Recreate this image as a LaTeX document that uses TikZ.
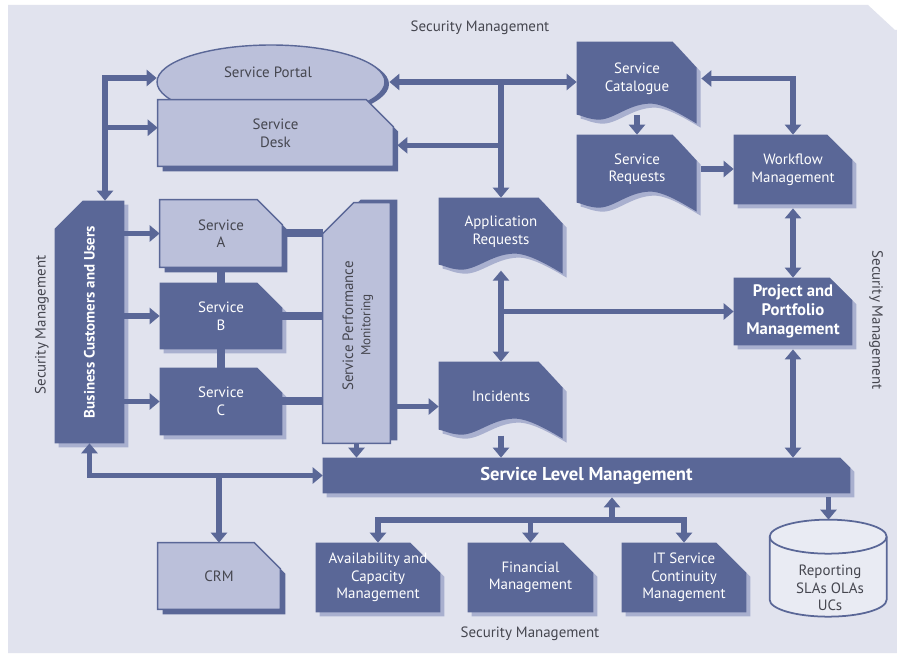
\documentclass[tikz,border=0pt]{standalone}
\usepackage{fontspec}
\setmainfont{PT Sans}
\usetikzlibrary{shapes.geometric,positioning,calc,arrows.meta}

\definecolor{panelgray}{HTML}{E1E3EE}
\definecolor{itilblue}{HTML}{5A6797}
\definecolor{itillight}{HTML}{BBC0DA}
\definecolor{itilshade}{HTML}{A9B0CF}
\definecolor{itiltext}{HTML}{45464F}
\definecolor{itildisk}{HTML}{E9EBF3}

\pgfdeclarelayer{panel}
\pgfdeclarelayer{docs}
\pgfsetlayers{panel,docs,main}

\tikzset{
  box/.style={rectangle, inner sep=0pt, align=center, font=\fontsize{8.5}{10}\selectfont},
  darkbox/.style={box, text=white},
  lightbox/.style={box, text=itiltext},
  darkfill/.style={fill=itilblue},
  darkshade/.style={fill=itilshade, transform canvas={shift={(2.3pt,-2.3pt)}}},
  lightfill/.style={fill=itillight, draw=itilblue, line width=0.8pt},
  lightshade/.style={fill=itilblue, transform canvas={shift={(2.8pt,-2.8pt)}}},
  conn/.style={draw=itilblue, line width=0.11cm},
  tie/.style={draw=itilblue, line width=0.16cm},
  secnote/.style={text=itiltext, font=\fontsize{8.5}{10}\selectfont},
}

% boxes with one corner cut off, drawn round a node
\newcommand{\nepath}[2]{(#1.north west) -- ([xshift=-#2]#1.north east)
  -- ([yshift=-#2]#1.north east) -- (#1.south east) -- (#1.south west) -- cycle}
\newcommand{\nwpath}[2]{([yshift=-#2]#1.north west) -- ([xshift=#2]#1.north west)
  -- (#1.north east) -- (#1.south east) -- (#1.south west) -- cycle}
\newcommand{\shapebox}[5]{%
  \begin{pgfonlayer}{docs}
    \path[#5] #2{#1}{#3};
    \path[#4] #2{#1}{#3};
  \end{pgfonlayer}}

% wavy document outline, w and h in px, drawn from the node's north west corner
\newcommand{\docpath}[2]{(0,0) -- ({#1-24},0) -- (#1,26) -- (#1,{#2+9})
  .. controls ({#1-12},{#2+2}) and ({0.72*#1},{#2-12}) .. ({0.6*#1},{#2-11})
  .. controls ({0.42*#1},{#2-10}) and ({0.3*#1},{#2+6}) .. ({0.17*#1},{#2+5})
  .. controls ({0.08*#1},{#2+4}) and (6,{#2+1}) .. (0,#2) -- cycle}
\newcommand{\docshape}[3]{%
  \begin{pgfonlayer}{docs}
    \begin{scope}[shift={(#1.north west)}]
      \fill[itilshade,shift={(4,4)}] \docpath{#2}{#3};
      \fill[itilblue] \docpath{#2}{#3};
    \end{scope}
  \end{pgfonlayer}}

\begin{document}
\begin{tikzpicture}[x=0.02cm,y=-0.02cm,>={Triangle[width=0.32cm,length=0.2cm]}]
\useasboundingbox (0,0) rectangle (897,655);
\begin{pgfonlayer}{panel}
  \fill[white] (0,0) rectangle (897,655);
  \fill[panelgray] (8,5) -- (868,5) -- (895,30) -- (897,30) -- (897,653) -- (8,653) -- cycle;
\end{pgfonlayer}

% security around everything
\node[secnote] (sectop) at (480,28) {Security Management};
\node[secnote,rotate=90] (secleft) at (42,325) {Security Management};
\node[secnote,rotate=-90] (secright) at (876,320) {Security Management};
\node[secnote] (secbot) at (530,634) {Security Management};

% portal and desk
\node[ellipse, minimum width=4.56cm, minimum height=1.48cm] (portal) at (271,82) {};
\begin{pgfonlayer}{docs}
  \fill[itilblue] ([xshift=2.3pt,yshift=-1.2pt]portal.center) ellipse [x radius=2.28cm, y radius=0.74cm];
  \filldraw[lightfill] (portal.center) ellipse [x radius=2.28cm, y radius=0.74cm];
\end{pgfonlayer}
\node[lightbox] (portaltext) at (268,72) {Service Portal};
\node[lightbox, minimum width=4.7cm, minimum height=1.32cm] (desk) at (275.5,133) {Service\\Desk};
\shapebox{desk}{\nepath}{0.54cm}{lightfill}{lightshade}

% customers, services and monitoring
\node[darkbox, minimum width=1.38cm, minimum height=4.84cm] (bcu) at (89.5,322) {};
\shapebox{bcu}{\nwpath}{0.56cm}{darkfill}{darkshade}
\node[rotate=90, text=white, font=\bfseries\fontsize{8.5}{10}\selectfont] (bcutext) at (bcu) {Business Customers and Users};
\node[lightbox, minimum width=2.44cm, minimum height=1.34cm] (sa) at (221,233.5) {Service\\A};
\shapebox{sa}{\nepath}{0.5cm}{lightfill}{lightshade}
\node[darkbox, minimum width=2.44cm, minimum height=1.32cm] (sb) at (221,316) {Service\\B};
\shapebox{sb}{\nepath}{0.5cm}{darkfill}{darkshade}
\node[darkbox, minimum width=2.44cm, minimum height=1.34cm] (sc) at (221,401.5) {Service\\C};
\shapebox{sc}{\nepath}{0.5cm}{darkfill}{darkshade}
\node[lightbox, minimum width=1.34cm, minimum height=4.8cm] (spm) at (356.5,323) {};
\shapebox{spm}{\nwpath}{0.62cm}{lightfill}{fill=itilblue, transform canvas={shift={(4pt,1.7pt)}}}
\node[rotate=90, text=itiltext, font=\fontsize{8.5}{10}\selectfont] (spmtext) at (348,326) {Service Performance};
\node[rotate=90, text=itiltext, font=\fontsize{7.5}{9}\selectfont] (spmsub) at (367,325) {Monitoring};
\node[lightbox, minimum width=2.44cm, minimum height=1.32cm] (crm) at (219,576) {CRM};
\shapebox{crm}{\nepath}{0.52cm}{lightfill}{lightshade}

% request and incident records
\node[box, text=white, minimum width=2.48cm, minimum height=1.34cm] (appreq) at (501,231.5) {Application\\Requests};
\docshape{appreq}{124}{67}
\node[box, text=white, minimum width=2.48cm, minimum height=1.36cm] (inc) at (501,396) {Incidents};
\docshape{inc}{124}{68}
\node[box, text=white, minimum width=2.4cm, minimum height=1.46cm] (cat) at (637,78.5) {Service\\Catalogue};
\docshape{cat}{120}{73}
\node[box, text=white, minimum width=2.4cm, minimum height=1.36cm] (req) at (637,169) {Service\\Requests};
\docshape{req}{120}{68}

% management boxes
\node[darkbox, minimum width=2.36cm, minimum height=1.38cm] (wf) at (793,169.5) {Workflow\\Management};
\shapebox{wf}{\nepath}{0.5cm}{darkfill}{darkshade}
\node[darkbox, minimum width=2.36cm, minimum height=1.34cm, font=\bfseries\fontsize{9.5}{11}\selectfont] (proj) at (793,311.5) {Project and\\Portfolio\\Management};
\shapebox{proj}{\nepath}{0.45cm}{darkfill}{darkshade}
\node[darkbox, minimum width=10.54cm, minimum height=0.7cm, font=\bfseries\fontsize{10.6}{12}\selectfont] (slm) at (586.5,475.5) {Service Level Management};
\shapebox{slm}{\nepath}{0.2cm}{darkfill}{darkshade}
\node[darkbox, minimum width=2.48cm, minimum height=1.38cm] (avail) at (378,577.5) {Availability and\\Capacity\\Management};
\shapebox{avail}{\nepath}{0.6cm}{darkfill}{darkshade}
\node[darkbox, minimum width=2.5cm, minimum height=1.38cm] (fin) at (530.5,577.5) {Financial\\Management};
\shapebox{fin}{\nepath}{0.6cm}{darkfill}{darkshade}
\node[darkbox, minimum width=2.48cm, minimum height=1.38cm] (itc) at (684,577.5) {IT Service\\Continuity\\Management};
\shapebox{itc}{\nepath}{0.6cm}{darkfill}{darkshade}

% reporting store
\node[box, minimum width=2.34cm, minimum height=1.94cm] (rep) at (828.5,568.5) {};
\begin{pgfonlayer}{docs}
  \begin{scope}[shift={(rep.north west)}]
    \filldraw[fill=itildisk, draw=itilblue, line width=1pt] (0,17) -- (0,80)
      arc[start angle=180, end angle=360, x radius=1.17cm, y radius=0.34cm]
      -- (117,17) arc[start angle=0, end angle=180, x radius=1.17cm, y radius=0.34cm] -- cycle;
    \draw[itilblue, line width=1pt] (0,17) arc[start angle=180, end angle=360, x radius=1.17cm, y radius=0.34cm];
  \end{scope}
\end{pgfonlayer}
\node[lightbox] (reptext) at (830,588) {Reporting\\SLAs OLAs\\UCs};

% connectors, top left
\coordinate (lt) at (105,78);
\draw[conn,<->] (lt |- bcu.north) -- (lt) -- (lt -| portal.west);
\coordinate (deskl) at ([yshift=3pt]desk.west);
\draw[conn,->] (lt |- deskl) -- (deskl);

% connectors, top right
\coordinate (rt) at (appreq.north |- portal.east);
\draw[conn,<->,shorten <=2.3pt] (portal.east) -- (portal.east -| cat.west);
\draw[conn,->] (rt) -- (appreq.north);
\coordinate (deskr) at ([yshift=-7pt]desk.east);
\draw[conn,->,shorten >=2.3pt] (deskr -| appreq.north) -- (deskr);
\draw[conn,->] (cat.south) -- (req.north);
\draw[conn,<->,shorten <=2.3pt] (cat.east) -| (wf.north);
\draw[conn,->,shorten <=2.3pt] (req.east) -- (req.east -| wf.west);
\draw[conn,<->,shorten <=2.3pt] (wf.south) -- (proj.north);
\draw[conn,<->,shorten <=3pt] (appreq.south) -- (inc.north);
\draw[conn,->] (appreq.south |- proj.west) -- (proj.west);

% services to monitoring
\foreach \s in {sa,sb,sc} {
  \draw[conn,->] (bcu.east |- \s.west) -- (\s.west);
  \draw[tie] (\s.east) -- (\s.east -| spm.west);
}
\draw[tie] (sa.south) -- (sb.north);
\draw[tie] (sb.south) -- (sc.north);

% into service level management
\coordinate (incl) at ([yshift=-6pt]inc.west);
\draw[conn,->] (incl -| spm.east) -- (incl);
\draw[conn,->,shorten <=3pt] (inc.south) -- (inc.south |- slm.north);
\draw[conn,->] (spm.south) -- (spm.south |- slm.north);
\draw[conn,<->,shorten <=2.3pt] (proj.south) -- (proj.south |- slm.north);
\draw[conn,->,shorten <=2.3pt] (rep.north |- slm.south) -- (rep.north);
\draw[conn,<->] (bcu.south) |- (slm.west);
\draw[conn,->] (crm.north |- slm.west) -- (crm.north);

% supporting processes
\coordinate (bus) at (612,520);
\draw[conn,->,shorten >=2.3pt] (bus) -- (bus |- slm.south);
\draw[conn,<->] (avail.north) |- (bus) -| (itc.north);
\draw[conn,->] (fin.north |- bus) -- (fin.north);
\end{tikzpicture}
\end{document}
